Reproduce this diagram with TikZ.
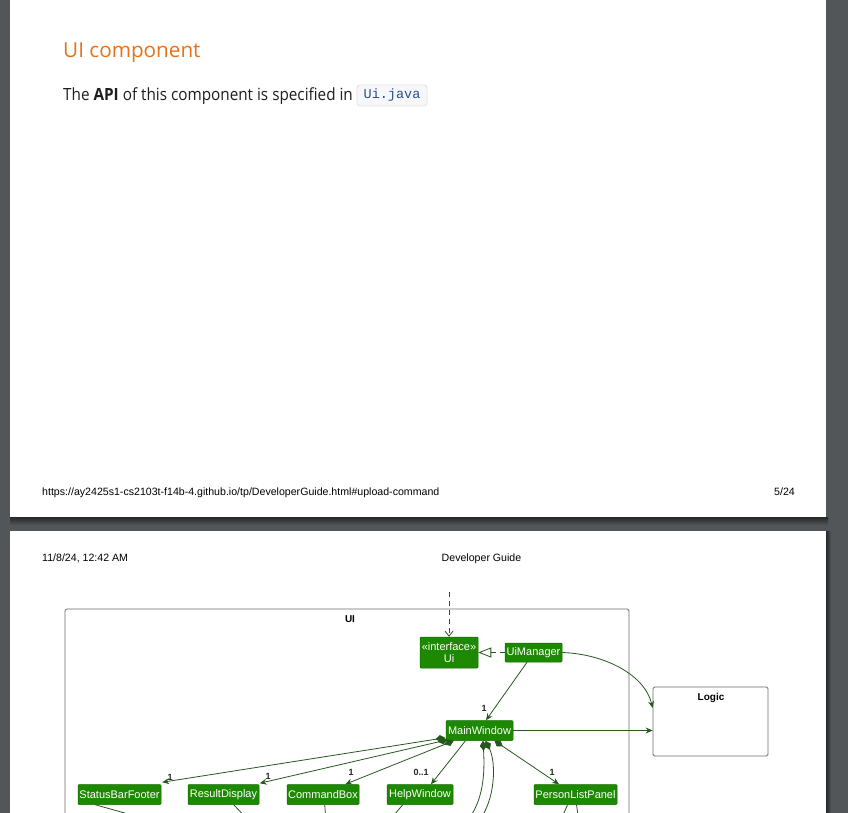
\documentclass[tikz,border=0pt]{standalone}
\usepackage{fontspec}
\setmainfont{Open Sans}
\newfontfamily\bodyf[FakeStretch=0.91]{Open Sans}
\newfontfamily\arialf{Liberation Sans}
\newfontfamily\monof{Liberation Mono}
\usetikzlibrary{arrows.meta,calc}
\definecolor{bgc}{RGB}{82,86,89}
\definecolor{shadowc}{RGB}{38,40,42}
\definecolor{titlec}{RGB}{230,115,25}
\definecolor{textc}{RGB}{30,30,30}
\definecolor{codebg}{RGB}{247,247,249}
\definecolor{codeborder}{RGB}{225,225,230}
\definecolor{codetext}{RGB}{40,80,140}
\definecolor{nodegreen}{RGB}{29,137,0}
\definecolor{nodeborder}{RGB}{22,104,0}
\definecolor{lnk}{RGB}{38,88,30}
\definecolor{pkgc}{RGB}{110,110,110}
\tikzset{
  cls/.style={draw=nodeborder, fill=nodegreen, text=white, font=\arialf\fontsize{11}{12.5}\selectfont,
    inner sep=0pt, rounded corners=1pt, line width=0.5pt},
  pkg/.style={draw=pkgc, line width=0.8pt, rounded corners=1.5pt, inner sep=0pt},
  pkgtitle/.style={font=\arialf\bfseries\fontsize{10}{11}\selectfont, text=black, inner sep=0pt, anchor=base},
  mult/.style={font=\arialf\bfseries\fontsize{9}{10}\selectfont, text=black!85, inner sep=0pt, anchor=base},
  arr/.style={draw=lnk, line width=0.8pt, -{Stealth[length=7pt,width=6pt,inset=2.5pt]}},
  comp/.style={draw=lnk, line width=0.8pt, {Diamond[length=10pt,width=7pt]}-{Stealth[length=7pt,width=6pt,inset=2.5pt]}},
  compline/.style={draw=lnk, line width=0.8pt, {Diamond[length=10pt,width=7pt]}-},
  plain/.style={draw=lnk, line width=0.8pt},
  dep/.style={draw=lnk, line width=0.8pt, dash pattern=on 5pt off 4pt, -{Straight Barb[length=5pt,width=8pt]}},
  real/.style={draw=lnk, line width=0.8pt, dash pattern=on 5pt off 4pt, -{Triangle[open,fill=white,length=13pt,width=10pt]}},
  pagetext/.style={font=\arialf\fontsize{10.6}{12}\selectfont, text=black, inner sep=0pt},
}
\begin{document}
\begin{tikzpicture}[x=1pt,y=-1pt]
\useasboundingbox (0,0) rectangle (848,813);
\clip (0,0) rectangle (848,813);
% background and pages
\fill[bgc] (0,0) rectangle (848,813);
\shade[top color=shadowc, bottom color=bgc] (10,517) rectangle (828,525);
\shade[left color=shadowc, right color=bgc] (826,531) rectangle (831,813);
\fill[white] (10,0) rectangle (826,517);
\fill[white] (10,531) rectangle (826,813);

% page 1 content
\node[font=\fontsize{20.7}{24}\selectfont, text=titlec, anchor=base west, inner sep=0pt] (title) at (63,57.7) {UI component};
\node[font=\bodyf\fontsize{16.8}{20}\selectfont, text=textc, anchor=base west, inner sep=0pt] (body) at (63,101) {The \textbf{API} of this component is specified in};
\node[draw=codeborder, fill=codebg, rounded corners=3pt, line width=0.8pt, minimum width=70pt, minimum height=21pt, inner sep=0pt,
  font=\monof\fontsize{13.5}{15}\selectfont, text=codetext] (code) at (392,95.5) {Ui.java};
\node[pagetext, anchor=base west] (url) at (42,495) {https://ay2425s1-cs2103t-f14b-4.github.io/tp/DeveloperGuide.html\#upload-command};
\node[pagetext, anchor=base east] (pgno) at (795,495) {5/24};

% page 2 header
\node[pagetext, anchor=base west] (date) at (42,561) {11/8/24, 12:42 AM};
\node[pagetext, anchor=base] (dg) at (481.5,561) {Developer Guide};

% packages
\node[pkg, minimum width=564pt, minimum height=260pt] (uipkg) at (347,739) {};
\node[pkgtitle] (uilabel) at (350,622) {UI};
\node[pkg, minimum width=115pt, minimum height=69pt] (logic) at (710.5,721.5) {};
\node[pkgtitle] (logiclabel) at (711,700) {Logic};

% classes
\node[cls, minimum width=58pt, minimum height=31pt, align=center] (ui) at (449,652.5) {«interface»\\[-1pt]Ui};
\node[cls, minimum width=57pt, minimum height=19pt] (uim) at (533.5,652.5) {UiManager};
\node[cls, minimum width=67pt, minimum height=20pt] (mw) at (479.5,730.5) {MainWindow};
\node[cls, minimum width=83pt, minimum height=20pt] (sbf) at (119.5,794.5) {StatusBarFooter};
\node[cls, minimum width=71pt, minimum height=20pt] (rd) at (223.5,794.5) {ResultDisplay};
\node[cls, minimum width=72pt, minimum height=20pt] (cb) at (323,794.5) {CommandBox};
\node[cls, minimum width=66pt, minimum height=20pt] (hw) at (420,794.5) {HelpWindow};
\node[cls, minimum width=83pt, minimum height=20pt] (plp) at (575.5,794.5) {PersonListPanel};

% free ends
\coordinate (deptop) at (449,592);
\coordinate (cA) at (468,820);
\coordinate (cB) at (478,822);
\coordinate (sbfd) at (157,822);
\coordinate (rdd) at (250,822);
\coordinate (cbd) at (326,822);
\coordinate (hwd) at (388,822);
\coordinate (plpd1) at (560,822);
\coordinate (plpd2) at (579,822);

% connectors
\draw[dep] (deptop) -- (ui.north);
\draw[real] (uim.west) -- (ui.east);
\draw[arr] ([xshift=-6.5pt]uim.south) -- ([xshift=6.5pt]mw.north);
\node[mult] (m1) at (484,711) {1};
\draw[arr] (uim.east) .. controls (605,654) and (645,675) .. ([yshift=13.5pt]logic.west);
\draw[arr] (mw.east) -- (logic.west |- mw.east);

\draw[comp] ([xshift=-0.5pt,yshift=3pt]mw.south west) -- ([xshift=1pt,yshift=2pt]sbf.north east);
\node[mult] (m2) at (170,780) {1};
\draw[comp] ([xshift=2pt,yshift=1pt]mw.south west) -- ([xshift=0.5pt,yshift=1pt]rd.north east);
\node[mult] (m3) at (268,779) {1};
\draw[comp] ([xshift=8pt]mw.south west) -- ([xshift=-14pt]cb.north east);
\node[mult] (m4) at (351,775) {1};
\draw[arr] ([xshift=-14pt]mw.south) -- ([xshift=11pt]hw.north);
\node[mult] (m5) at (421,775) {0..1};
\draw[comp] ([xshift=15pt]mw.south) -- ([xshift=-16.5pt]plp.north);
\node[mult] (m6) at (552,775) {1};

\draw[compline] ([xshift=3.5pt]mw.south) .. controls (485,775) and (483,800) .. (cA);
\draw[compline] ([xshift=6pt]mw.south) .. controls (496,762) and (496,800) .. (cB);

\draw[plain] ([xshift=17.5pt]sbf.south west) -- (sbfd);
\draw[plain] ([xshift=46pt]rd.south west) -- (rdd);
\draw[plain] ([xshift=38pt]cb.south west) -- (cbd);
\draw[plain] ([xshift=16pt]hw.south west) -- (hwd);
\draw[plain] ([xshift=-8pt]plp.south) -- (plpd1);
\draw[plain] ([xshift=1pt]plp.south) -- (plpd2);
\end{tikzpicture}
\end{document}
